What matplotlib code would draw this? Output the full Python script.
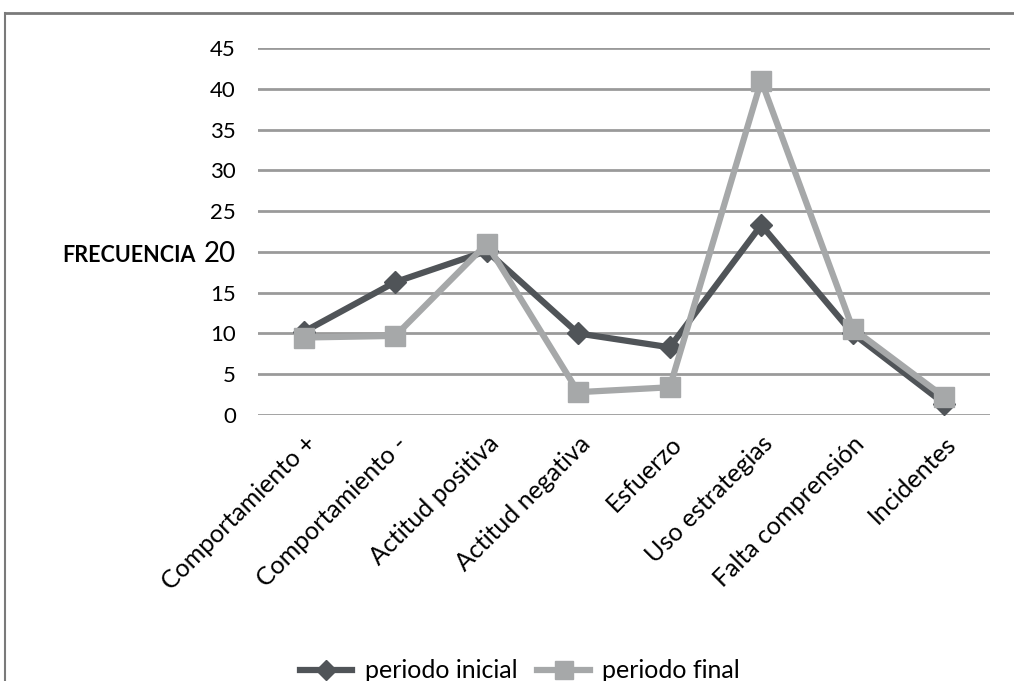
import matplotlib
matplotlib.use("Agg")
import matplotlib.pyplot as plt
from matplotlib.lines import Line2D

categories = ["Comportamiento +", "Comportamiento -", "Actitud positiva", "Actitud negativa",
              "Esfuerzo", "Uso estrategias", "Falta comprensión", "Incidentes"]
inicial = [10.2, 16.3, 20.1, 10.0, 8.3, 23.3, 10.0, 1.4]
final = [9.5, 9.7, 21.0, 2.8, 3.4, 41.0, 10.6, 2.2]
yticks = [0, 5, 10, 15, 20, 25, 30, 35, 40, 45]

plt.rcParams['font.family'] = ['Lato', 'DejaVu Sans']

W, H = 1014, 681
fig = plt.figure(figsize=(W / 100, H / 100), dpi=100)
ax = fig.add_axes([258 / W, 1 - 415 / H, (990 - 258) / W, (415 - 48) / H])

x = list(range(len(categories)))
dark = "#505458"
light = "#a6a8a9"
l1, = ax.plot(x, inicial, color=dark, lw=4.5, marker="D", ms=11, mfc=dark, mec=dark,
              label="periodo inicial", zorder=3)
l2, = ax.plot(x, final, color=light, lw=4.5, marker="s", ms=15, mfc=light, mec=light,
              label="periodo final", zorder=4)

ax.set_xlim(-0.5, len(categories) - 0.5)
ax.set_ylim(0, 45)
ax.set_yticks(yticks)
ax.set_yticklabels([str(v) for v in yticks], fontsize=16)
for lab in ax.get_yticklabels():
    if lab.get_text() == "20":
        lab.set_fontsize(20)
ax.yaxis.grid(True, color="#9a9a9a", lw=2)
ax.set_axisbelow(True)
ax.tick_params(axis="y", length=0, pad=16)
ax.tick_params(axis="x", length=0, pad=12)
ax.set_xticks(x)
ax.set_xticklabels(categories, rotation=45, ha="right", rotation_mode="anchor", fontsize=18)
for s in ax.spines.values():
    s.set_visible(False)

fig.text(62 / W, 1 - 256 / H, "FRECUENCIA", fontsize=15.5, fontweight="bold", va="center", ha="left")

fig.legend(handles=[l1, l2], loc="center", bbox_to_anchor=(520 / W, 1 - 671 / H), ncol=2,
           frameon=False, fontsize=18, handlelength=2.1, columnspacing=0.8, handletextpad=0.5,
           markerscale=0.9)

fig.add_artist(Line2D([5 / W, 1], [1 - 13 / H, 1 - 13 / H], color="#7a7a7a", lw=2))
fig.add_artist(Line2D([5 / W, 5 / W], [1 - 13 / H, 0], color="#7a7a7a", lw=1.5))

fig.savefig("out.png", dpi=100, facecolor="white")
